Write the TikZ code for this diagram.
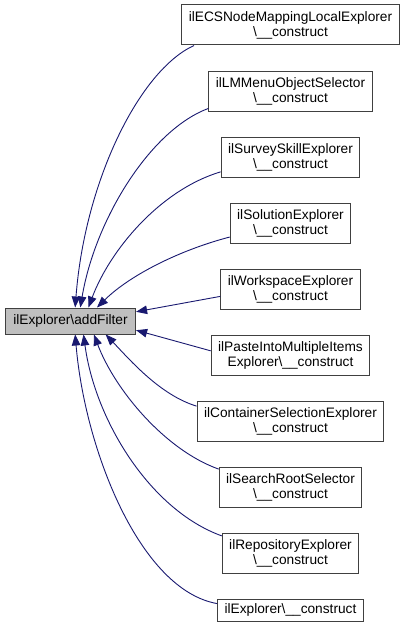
\documentclass[tikz,border=0pt]{standalone}
\usepackage{fontspec}
\setmainfont{Liberation Sans}
\usetikzlibrary{arrows.meta}
\definecolor{edgeblue}{HTML}{191970}
\definecolor{framegray}{HTML}{404040}
\definecolor{fngray}{HTML}{BFBFBF}

\begin{document}
\begin{tikzpicture}[x=1pt,y=-1pt,
  fn/.style={draw=framegray,line width=1pt,fill=white,align=center,
    inner xsep=7pt,inner ysep=0pt,minimum height=40pt,
    font=\fontsize{13.7}{15}\selectfont},
  caller/.style={edgeblue,line width=0.9pt,-{Triangle[length=11pt,width=8.5pt]}}]
  \useasboundingbox (0,0) rectangle (404,626);
  % called function
  \node[fn,fill=fngray,minimum height=26pt,inner xsep=8pt] (add) at (70.5,321) {ilExplorer\textbackslash addFilter};
  % callers
  \node[fn] (ecs) at (290.5,25) {ilECSNodeMappingLocalExplorer\\\textbackslash\_\_construct};
  \node[fn] (lmsel) at (290.5,91) {ilLMMenuObjectSelector\\\textbackslash\_\_construct};
  \node[fn] (survey) at (290.5,157) {ilSurveySkillExplorer\\\textbackslash\_\_construct};
  \node[fn] (solution) at (290.5,223) {ilSolutionExplorer\\\textbackslash\_\_construct};
  \node[fn] (workspace) at (290.5,289) {ilWorkspaceExplorer\\\textbackslash\_\_construct};
  \node[fn] (paste) at (290.5,355) {ilPasteIntoMultipleItems\\Explorer\textbackslash\_\_construct};
  \node[fn] (container) at (290.5,421) {ilContainerSelectionExplorer\\\textbackslash\_\_construct};
  \node[fn] (searchroot) at (290.5,487) {ilSearchRootSelector\\\textbackslash\_\_construct};
  \node[fn] (repository) at (290.5,553) {ilRepositoryExplorer\\\textbackslash\_\_construct};
  \node[fn,minimum height=22pt] (explorer) at (290.5,610) {ilExplorer\textbackslash\_\_construct};
  % calls
  \draw[caller] (ecs.192) .. controls (140,70) and (85,180) .. (add.71);
  \draw[caller] (lmsel.192) .. controls (150,130) and (95,220) .. (add.54);
  \draw[caller] (survey.192) .. controls (160,190) and (110,250) .. (add.37);
  \draw[caller] (solution.193) .. controls (180,250) and (130,275) .. (add.27);
  \draw[caller] (workspace.186) -- (add.8);
  \draw[caller] (paste.177) -- (add.-8);
  \draw[caller] (container.171) .. controls (160,395) and (130,360) .. (add.-21);
  \draw[caller] (searchroot.166) .. controls (165,450) and (115,390) .. (add.-30);
  \draw[caller] (repository.166) .. controls (150,510) and (95,420) .. (add.-46);
  \draw[caller] (explorer.175) .. controls (140,590) and (85,450) .. (add.-71);
\end{tikzpicture}
\end{document}
